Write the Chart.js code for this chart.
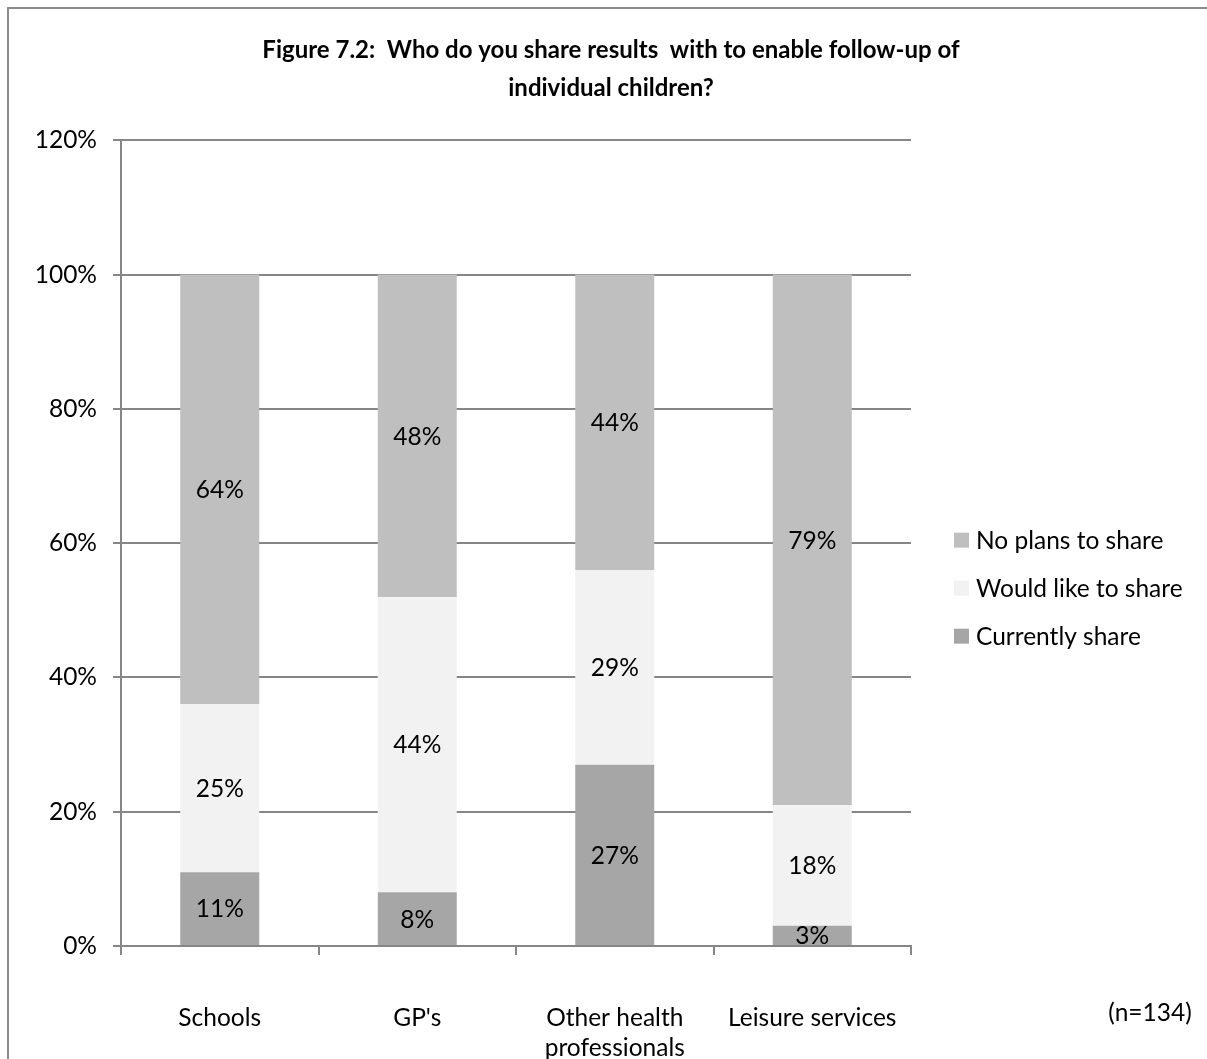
<!DOCTYPE html>
<html>
<head>
<meta charset="utf-8">
<script src="https://cdn.jsdelivr.net/npm/chart.js@4.4.1/dist/chart.umd.min.js"></script>
<style>
  html, body { margin: 0; padding: 0; background: #fff; }
  #wrap { width: 1207px; height: 1059px; position: relative; }
</style>
</head>
<body>
<div id="wrap"><canvas id="shareChart" width="1207" height="1059"></canvas></div>
<script>
const categories = ["Schools", "GP's", ["Other health", "professionals"], "Leisure services"];
const currentlyShare = [11, 8, 27, 3];
const wouldLikeToShare = [25, 44, 29, 18];
const noPlansToShare = [64, 48, 44, 79];
const yTicks = [0, 20, 40, 60, 80, 100, 120];

const FONT = "Lato, 'Open Sans', sans-serif";
const TEXT_SIZE = 24.5;
const GRID = "#868686";

// white page with a thin frame on the left and top
const framePlugin = {
  id: "frame",
  beforeDraw(chart) {
    const ctx = chart.ctx;
    ctx.save();
    ctx.fillStyle = "#fff";
    ctx.fillRect(0, 0, chart.width, chart.height);
    ctx.strokeStyle = "#8c8c8c";
    ctx.lineWidth = 2;
    ctx.beginPath();
    ctx.moveTo(8, chart.height);
    ctx.lineTo(8, 8);
    ctx.lineTo(chart.width, 8);
    ctx.stroke();
    ctx.restore();
  }
};

// percentage in the middle of each segment, the legend and the sample size note
const valueLabels = {
  id: "valueLabels",
  afterDatasetsDraw(chart) {
    const ctx = chart.ctx;
    const area = chart.chartArea;
    ctx.save();
    ctx.font = TEXT_SIZE + "px " + FONT;
    ctx.fillStyle = "#000";
    ctx.textAlign = "center";
    ctx.textBaseline = "middle";
    chart.data.datasets.forEach((ds, i) => {
      chart.getDatasetMeta(i).data.forEach((bar, j) => {
        const mid = (bar.y + bar.base) / 2;
        ctx.fillText(ds.data[j] + "%", bar.x, mid + 1);
      });
    });

    // legend, top item is the top segment
    const sets = chart.data.datasets.slice().reverse();
    const legendX = area.right + 43;
    const firstY = (area.top + area.bottom) / 2 - 3;
    ctx.textAlign = "left";
    sets.forEach((ds, k) => {
      const y = firstY + k * 48;
      ctx.fillStyle = ds.backgroundColor;
      ctx.fillRect(legendX, y - 7.5, 15, 15);
      ctx.fillStyle = "#000";
      ctx.fillText(ds.label, legendX + 22, y + 1);
    });

    ctx.textAlign = "center";
    ctx.fillText("(n=134)", 1150, 1013);
    ctx.restore();
  }
};

new Chart(document.getElementById("shareChart"), {
  type: "bar",
  data: {
    labels: categories,
    datasets: [
      { label: "Currently share", data: currentlyShare, backgroundColor: "#a6a6a6" },
      { label: "Would like to share", data: wouldLikeToShare, backgroundColor: "#f2f2f2" },
      { label: "No plans to share", data: noPlansToShare, backgroundColor: "#bfbfbf" }
    ]
  },
  options: {
    responsive: false,
    animation: false,
    layout: { padding: { left: 15, right: 0, top: 0, bottom: 0 } },
    datasets: { bar: { categoryPercentage: 1, barPercentage: 0.4 } },
    plugins: {
      title: {
        display: true,
        text: ["Figure 7.2:  Who do you share results  with to enable follow-up of", "individual children?"],
        color: "#000",
        font: { family: FONT, size: 24, weight: "bold", lineHeight: 1.58 },
        padding: { top: 31, bottom: 33.5 }
      },
      legend: { display: false },
      tooltip: { enabled: false }
    },
    scales: {
      x: {
        stacked: true,
        grid: { offset: true, drawOnChartArea: false, drawTicks: true, tickLength: 9, color: GRID, lineWidth: 2 },
        border: { color: GRID, width: 2 },
        ticks: { color: "#000", font: { family: FONT, size: TEXT_SIZE, lineHeight: 1.22 }, padding: 48, maxRotation: 0, autoSkip: false },
        afterFit(scale) { scale.height = 113; }
      },
      y: {
        stacked: true,
        min: 0,
        max: 120,
        afterBuildTicks(scale) { scale.ticks = yTicks.map(v => ({ value: v })); },
        grid: { color: GRID, lineWidth: 2, tickLength: 8 },
        border: { color: GRID, width: 2 },
        ticks: { color: "#000", font: { family: FONT, size: TEXT_SIZE }, padding: 16, callback: v => v + "%" },
        afterFit(scale) { scale.width = 106; }
      },
      // empty axis that reserves the space on the right for the legend
      gap: {
        position: "right",
        display: true,
        grid: { display: false },
        border: { display: false },
        ticks: { display: false },
        afterFit(scale) { scale.width = 296; }
      }
    }
  },
  plugins: [framePlugin, valueLabels]
});
</script>
</body>
</html>
